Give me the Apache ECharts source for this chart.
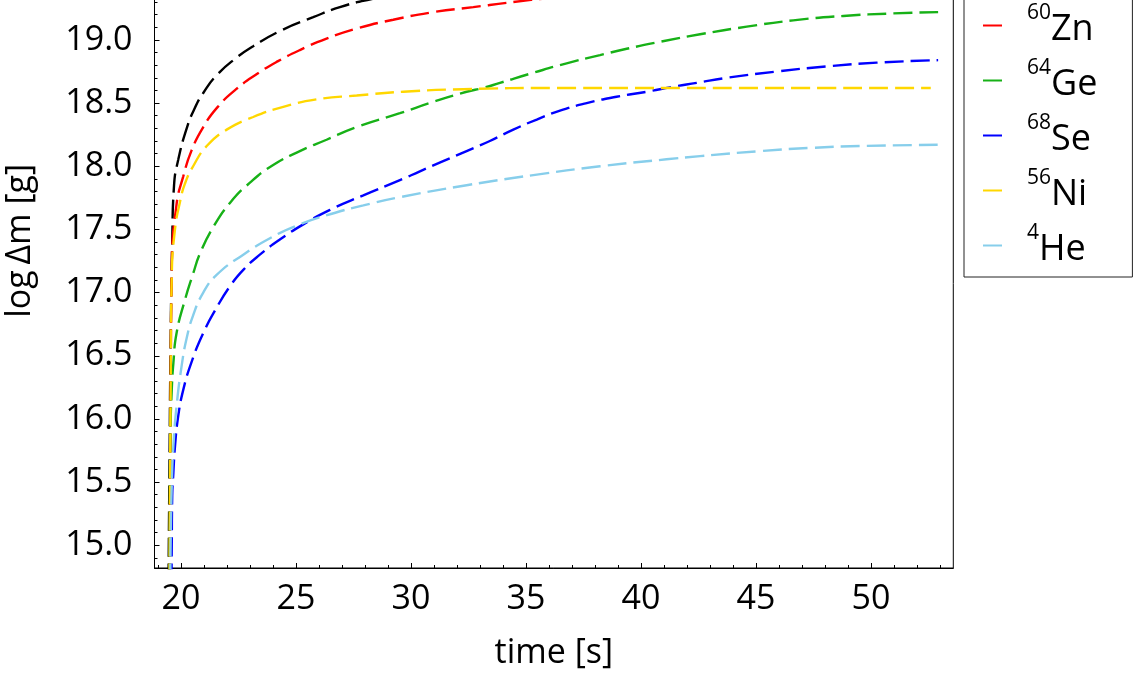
<!DOCTYPE html>
<html>
<head>
<meta charset="utf-8">
<script src="https://cdn.jsdelivr.net/npm/echarts@6/dist/echarts.min.js"></script>
<style>
  html, body { margin: 0; padding: 0; background: #fff; }
  #chart { width: 1136px; height: 677px; }
</style>
</head>
<body>
<div id="chart"></div>
<script>
// nuclide labels (mass number + element)
var masses = ['52', '60', '64', '68', '56', '4'];
var elements = ['Fe', 'Zn', 'Ge', 'Se', 'Ni', 'He'];
var colors = ['#000000', '#ff0000', '#17b117', '#0000ff', '#ffd700', '#87ceeb'];

// tick labels
var xTicks = [20, 25, 30, 35, 40, 45, 50];
var yTicks = [15.0, 15.5, 16.0, 16.5, 17.0, 17.5, 18.0, 18.5, 19.0, 19.5];

// [time (s), log dm (g)]
var fe52 = [[19.45,14.5],[19.5,15.6],[19.55,16.6],[19.62,17.4],[19.7,17.85],[19.88,18.05],[20.25,18.3],
  [20.6,18.46],[20.97,18.58],[21.55,18.72],[22.42,18.86],[23.14,18.95],[24.3,19.07],
  [25.75,19.18],[26.91,19.26],[28.2,19.32],[30,19.38],[35,19.48],[40,19.55],[45,19.6],[52.9,19.64]];
var zn60 = [[19.5,14.5],[19.55,16.0],[19.6,17.21],[19.81,17.7],[20.1,17.92],[20.45,18.12],[20.97,18.31],
  [21.6,18.47],[22.4,18.61],[23.3,18.73],[24.2,18.83],[25.17,18.92],[26.33,19.01],[27.64,19.09],
  [29.23,19.16],[30.97,19.22],[32.71,19.26],[34.45,19.3],[36,19.33],[40,19.38],[45,19.42],[52.9,19.46]];
var ge64 = [[19.5,14.5],[19.52,15.3],[19.55,15.94],[19.6,16.23],[19.67,16.44],[19.81,16.68],[20.17,16.94],
  [20.53,17.15],[20.83,17.31],[21.41,17.52],[22.13,17.71],[23.0,17.87],[24.01,18.01],[25.17,18.12],
  [26.33,18.21],[27.64,18.31],[29.52,18.42],[30.97,18.51],[32.42,18.59],[33.14,18.62],[33.87,18.66],
  [35.32,18.74],[36.77,18.815],[38.22,18.88],[39.38,18.93],[40.83,18.985],[42.57,19.045],[44.6,19.105],
  [46.62,19.155],[48.8,19.19],[50.97,19.21],[52.92,19.22]];
var se68 = [[19.58,14.5],[19.6,14.99],[19.62,15.39],[19.67,15.57],[19.74,15.78],[19.88,16.02],[20.1,16.23],
  [20.46,16.45],[20.97,16.68],[21.55,16.88],[22.13,17.05],[22.71,17.18],[23.43,17.3],[24.3,17.42],
  [25.32,17.54],[26.48,17.655],[27.93,17.77],[29.52,17.89],[30.39,17.96],[31.4,18.04],[32.42,18.12],
  [33.43,18.2],[34.45,18.29],[35.47,18.37],[36.48,18.44],[37.64,18.5],[38.94,18.55],[40.25,18.59],
  [41.41,18.63],[42.42,18.66],[43.73,18.7],[45.9,18.75],[48.07,18.79],[50.25,18.82],[52.92,18.84]];
var ni56 = [[19.5,14.5],[19.55,16.2],[19.6,17.13],[19.74,17.5],[19.96,17.72],[20.17,17.86],[20.53,18.0],
  [21.12,18.16],[21.99,18.29],[23.14,18.39],[24.45,18.47],[25.9,18.53],[27.64,18.56],[29.67,18.59],
  [32.27,18.61],[36.3,18.62],[45,18.62],[52.6,18.62]];
var he4 = [[19.53,14.5],[19.55,14.99],[19.6,15.47],[19.67,15.78],[19.81,16.1],[20.03,16.42],[20.25,16.64],
  [20.53,16.82],[20.97,17.0],[21.55,17.14],[22.71,17.3],[23.87,17.43],[25.03,17.53],
  [26.48,17.62],[27.93,17.69],[29.52,17.755],[32.42,17.85],[35.32,17.93],[38.22,18.0],
  [41.11,18.055],[42.57,18.08],[45.17,18.12],[47.35,18.145],[49.52,18.16],[52.92,18.17]];

var curves = [fe52, zn60, ge64, se68, ni56, he4];

// minor tick positions
var xMinor = [];
for (var i = 19; i <= 53; i++) xMinor.push(i);
var yMinor = [];
for (var j = 149; j <= 199; j++) yMinor.push(j / 10);

var xMin = 18.85, xMax = 53.58, yMin = 14.82, yMax = 20.0;
var font = 'Open Sans';

var chart = echarts.init(document.getElementById('chart'), null, { renderer: 'canvas' });

var names = masses.map(function (m, k) { return m + elements[k]; });

var series = curves.map(function (d, k) {
  return {
    name: names[k],
    type: 'line',
    data: d,
    showSymbol: false,
    smooth: 0.5,
    clip: true,
    color: colors[k],
    lineStyle: { width: 2.4, type: [19, 7], color: colors[k] }
  };
});

var option = {
  animation: false,
  backgroundColor: '#fff',
  grid: {
    left: 154.5, right: 182.7, top: -86.4, bottom: 109,
    show: true, borderColor: '#000', borderWidth: 1, backgroundColor: 'transparent',
    outerBoundsMode: 'none'
  },
  legend: {
    orient: 'vertical',
    left: 964,
    top: -61,
    padding: [9, 35, 9, 19],
    itemGap: 10,
    itemWidth: 19,
    itemHeight: 2,
    icon: 'rect',
    borderColor: '#222',
    borderWidth: 1,
    data: names,
    formatter: function (name) {
      var k = names.indexOf(name);
      return '{sup|' + masses[k] + '}{el|' + elements[k] + '}';
    },
    textStyle: {
      fontFamily: font,
      color: '#000',
      rich: {
        sup: { fontFamily: font, fontSize: 21, lineHeight: 25, verticalAlign: 'top', padding: [0, 0, 0, 20], color: '#000' },
        el: { fontFamily: font, fontSize: 36, lineHeight: 45, verticalAlign: 'bottom', color: '#000' }
      }
    }
  },
  xAxis: [{
    type: 'value',
    min: xMin, max: xMax,
    position: 'bottom',
    name: 'time [s]',
    nameLocation: 'middle',
    nameGap: 68,
    nameTextStyle: { fontFamily: font, fontSize: 34, color: '#000' },
    axisLine: { show: true, onZero: false, lineStyle: { color: '#000', width: 1 } },
    axisTick: { show: true, inside: true, length: 5, customValues: xTicks, lineStyle: { color: '#000' } },
    axisLabel: { show: true, customValues: xTicks, margin: 14, fontFamily: font, fontSize: 34, color: '#000' },
    splitLine: { show: false }
  }, {
    type: 'value',
    min: xMin, max: xMax,
    position: 'bottom',
    offset: 0,
    axisLine: { show: false },
    axisTick: { show: true, inside: true, length: 3, customValues: xMinor, lineStyle: { color: '#000' } },
    axisLabel: { show: false },
    splitLine: { show: false }
  }],
  yAxis: [{
    type: 'value',
    min: yMin, max: yMax,
    position: 'left',
    name: 'log\u2009\u0394m [g]',
    nameLocation: 'middle',
    nameRotate: 90,
    nameGap: 117,
    nameTextStyle: { fontFamily: font, fontSize: 34, color: '#000' },
    axisLine: { show: true, onZero: false, lineStyle: { color: '#000', width: 1 } },
    axisTick: { show: true, inside: true, length: 5, customValues: yTicks, lineStyle: { color: '#000' } },
    axisLabel: {
      show: true, customValues: yTicks, margin: 22, fontFamily: font, fontSize: 34, color: '#000',
      formatter: function (v) { return v.toFixed(1); }
    },
    splitLine: { show: false }
  }, {
    type: 'value',
    min: yMin, max: yMax,
    position: 'left',
    offset: 0,
    axisLine: { show: false },
    axisTick: { show: true, inside: true, length: 3, customValues: yMinor, lineStyle: { color: '#000' } },
    axisLabel: { show: false },
    splitLine: { show: false }
  }],
  series: series
};

chart.setOption(option);
</script>
</body>
</html>
